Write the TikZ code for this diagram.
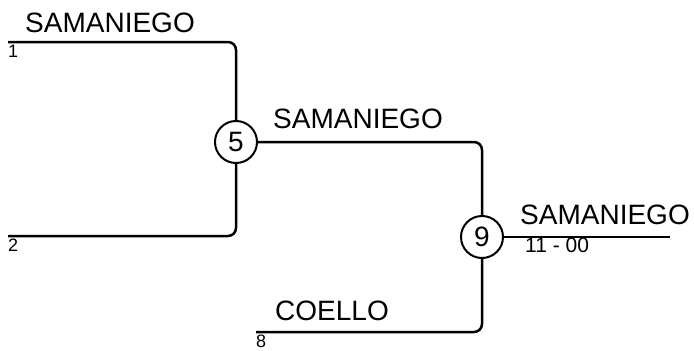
\documentclass[tikz,border=0pt]{standalone}
\usepackage{fontspec}
\setmainfont{Liberation Sans}
\usetikzlibrary{positioning}

\begin{document}
\begin{tikzpicture}[x=1pt, y=-1pt,
  match/.style={draw, circle, line width=2pt, minimum size=42pt, inner sep=0pt, font=\fontsize{28}{28}\selectfont},
  line/.style={line width=2.5pt, rounded corners=8pt},
  player/.style={anchor=base west, inner sep=0pt, font=\fontsize{28}{28}\selectfont},
  seed/.style={anchor=north west, inner sep=0pt, font=\fontsize{18}{18}\selectfont},
  score/.style={anchor=north west, inner sep=0pt, font=\fontsize{21}{21}\selectfont}]

  \useasboundingbox (0,0) rectangle (694,351);

  % Matches
  \node[match] (M5) at (236,142) {5};
  \node[match] (M9) at (482,237) {9};

  % Line ends
  \coordinate (S1) at (8,42);
  \coordinate (S2) at (8,236);
  \coordinate (S8) at (256,332);
  \coordinate (W) at (670,237);

  % Names
  \node[player] (N1) at (25,32) {SAMANIEGO};
  \node[player] (N5) at (273,128) {SAMANIEGO};
  \node[player] (N9) at (520,224) {SAMANIEGO};
  \node[player] (N8) at (275,320) {COELLO};

  % Seeds and score
  \node[seed] (D1) at (8,45) {1};
  \node[seed] (D2) at (8,239) {2};
  \node[seed] (D8) at (256,335) {8};
  \node[score] (R9) at (525,238) {11 - 00};

  % Bracket lines
  \draw[line] (S1) -| (M5);
  \draw[line] (S2) -| (M5);
  \draw[line] (M5) -| (M9);
  \draw[line] (S8) -| (M9);
  \draw[line] (M9) -- (W);

\end{tikzpicture}
\end{document}
